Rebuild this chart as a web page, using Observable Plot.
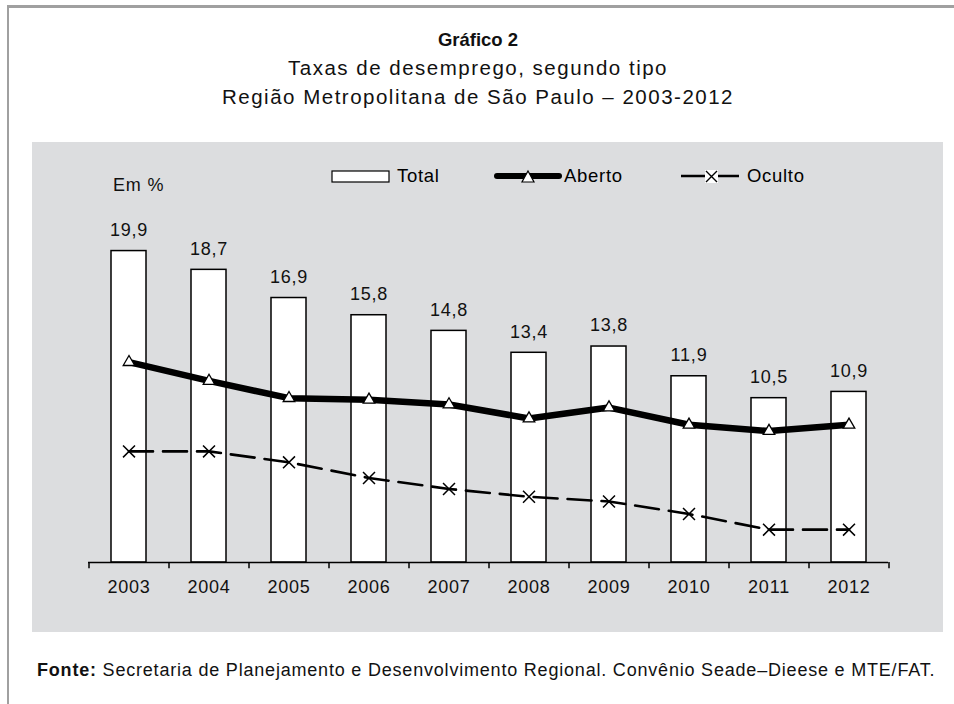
<!DOCTYPE html>
<html>
<head>
<meta charset="utf-8">
<script src="https://cdn.jsdelivr.net/npm/d3@7"></script>
<script src="https://cdn.jsdelivr.net/npm/@observablehq/plot@0.6"></script>
<style>
  html, body { margin: 0; padding: 0; background: #fff; }
  body { width: 954px; height: 704px; position: relative; overflow: hidden;
         font-family: "Liberation Sans", Arial, Helvetica, sans-serif; color: #111; }
  #frame { position: absolute; left: 7px; top: 5px; width: 960px; height: 720px;
           border-top: 3px solid #a0a0a0; border-left: 2px solid #a0a0a0; }
  .t { position: absolute; left: 0; width: 956px; text-align: center; font-size: 20.5px; line-height: 22px; letter-spacing: 1.5px; }
  #panel { position: absolute; left: 32px; top: 142px; width: 911px; height: 490px; background: #dcdddf; }
  #chart { position: absolute; left: 0; top: 0; }
  #legend { position: absolute; left: 320px; top: 160px; letter-spacing: 0.7px; }
  #unit { position: absolute; left: 113px; top: 174px; font-size: 18px; line-height: 22px; letter-spacing: 0.8px; }
  #caption { position: absolute; left: 37px; top: 659px; font-size: 18px; line-height: 22px; letter-spacing: 0.8px; white-space: nowrap; }
</style>
</head>
<body>
<div id="frame"></div>
<div class="t" style="top:29px;font-weight:bold;font-size:18.5px;letter-spacing:0;">Gráfico 2</div>
<div class="t" style="top:57px;">Taxas de desemprego, segundo tipo</div>
<div class="t" style="top:86px;">Região Metropolitana de São Paulo – 2003-2012</div>
<div id="panel"><div id="chart"></div></div>
<div id="unit">Em %</div>
<svg id="legend" width="540" height="32" font-family="Liberation Sans, Arial, sans-serif" font-size="18.5">
  <rect x="12" y="11" width="57" height="11" fill="#fff" stroke="#000" stroke-width="1.2"></rect>
  <text x="77" y="16" dy="0.35em">Total</text>
  <line x1="177" x2="239" y1="16" y2="16" stroke="#000" stroke-width="6" stroke-linecap="round"></line>
  <path d="M208,11 L214,22 L202,22 Z" fill="#fff" stroke="#000" stroke-width="1.2"></path>
  <text x="244" y="16" dy="0.35em">Aberto</text>
  <line x1="361" x2="419" y1="16" y2="16" stroke="#000" stroke-width="2.5"></line>
  <rect x="385" y="10" width="13" height="13" fill="#fff"></rect>
  <path d="M386,11 L397,22 M397,11 L386,22" stroke="#000" stroke-width="1.4" fill="none"></path>
  <text x="427" y="16" dy="0.35em">Oculto</text>
</svg>
<div id="caption"><b>Fonte:</b> Secretaria de Planejamento e Desenvolvimento Regional. Convênio Seade–Dieese e MTE/FAT.</div>
<script>
const years = ["2003","2004","2005","2006","2007","2008","2009","2010","2011","2012"];
const total  = [19.9, 18.7, 16.9, 15.8, 14.8, 13.4, 13.8, 11.9, 10.5, 10.9];
const aberto = [12.8, 11.6, 10.5, 10.4, 10.1, 9.2, 9.9, 8.8, 8.4, 8.8];
const oculto = [7.1, 7.1, 6.4, 5.4, 4.7, 4.2, 3.9, 3.1, 2.1, 2.1];

const data = years.map((y, i) => ({year: y, total: total[i], aberto: aberto[i], oculto: oculto[i]}));
const fmt = v => v.toFixed(1).replace(".", ",");
const lastYear = [years[years.length - 1]];

const chart = Plot.plot({
  width: 911,
  height: 490,
  marginLeft: 56,
  marginRight: 55,
  marginTop: 107,
  marginBottom: 70,
  style: {background: "transparent", fontSize: "18px", letterSpacing: "0.8px", fontFamily: "Liberation Sans, Arial, sans-serif", color: "#111", overflow: "visible"},
  x: {type: "band", domain: years, paddingInner: 0.5625, paddingOuter: 0.28125, tickSize: 0, tickPadding: 18, label: null},
  y: {domain: [0, 20], axis: null},
  marks: [
    Plot.barY(data, {x: "year", y: "total", fill: "#fff", stroke: "#000", strokeWidth: 1.5}),
    Plot.ruleY([0], {stroke: "#000", strokeWidth: 1.5}),
    Plot.ruleX(years, {x: d => d, y1: 0, y2: -0.4, dx: -40, stroke: "#000", strokeWidth: 1.5}),
    Plot.ruleX(lastYear, {x: d => d, y1: 0, y2: -0.4, dx: 40, stroke: "#000", strokeWidth: 1.5}),
    Plot.lineY(data, {x: "year", y: "oculto", stroke: "#000", strokeWidth: 2.6, strokeDasharray: "24,10"}),
    Plot.dot(data, {x: "year", y: "oculto", symbol: "times", r: 5.5, stroke: "#000", strokeWidth: 1.5}),
    Plot.lineY(data, {x: "year", y: "aberto", stroke: "#000", strokeWidth: 6.5, strokeLinejoin: "round"}),
    Plot.dot(data, {x: "year", y: "aberto", symbol: "triangle", r: 4.3, fill: "#fff", stroke: "#000", strokeWidth: 1.3}),
    Plot.text(data, {x: "year", y: "total", text: d => fmt(d.total), dy: -21, fill: "#111", fontSize: 18})
  ]
});
document.getElementById("chart").appendChild(chart);
</script>
</body>
</html>
